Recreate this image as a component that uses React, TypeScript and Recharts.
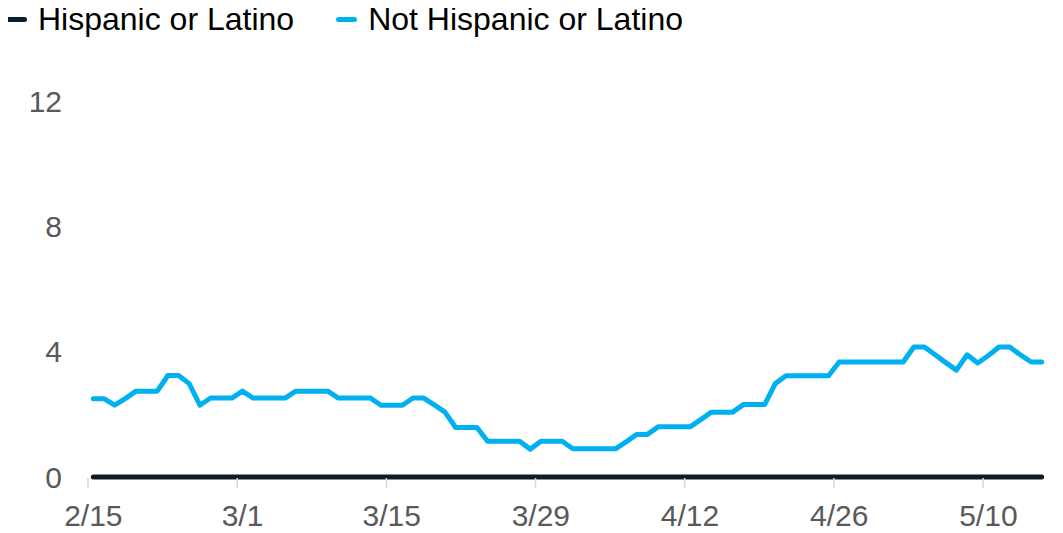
import React from "react";
import { LineChart, Line, XAxis, YAxis, Legend } from "recharts";

// daily labels, 2/15 through 5/15 (2021)
const START = new Date(2021, 1, 15);
const DATES = Array.from({ length: 90 }, (_, i) => {
  const d = new Date(START.getFullYear(), START.getMonth(), START.getDate() + i);
  return `${d.getMonth() + 1}/${d.getDate()}`;
});

const HISPANIC = new Array(90).fill(0);

const NOT_HISPANIC = [
  2.5, 2.5, 2.29, 2.5, 2.74, 2.74, 2.74, 3.24, 3.24, 2.98,
  2.29, 2.52, 2.52, 2.52, 2.74, 2.52, 2.52, 2.52, 2.52, 2.74,
  2.74, 2.74, 2.74, 2.52, 2.52, 2.52, 2.52, 2.29, 2.29, 2.29,
  2.52, 2.52, 2.3, 2.07, 1.58, 1.58, 1.58, 1.14, 1.14, 1.14,
  1.14, 0.89, 1.14, 1.14, 1.14, 0.9, 0.9, 0.9, 0.9, 0.9,
  1.12, 1.36, 1.36, 1.6, 1.6, 1.6, 1.6, 1.83, 2.07, 2.07,
  2.07, 2.31, 2.31, 2.31, 2.98, 3.23, 3.23, 3.23, 3.23, 3.23,
  3.67, 3.67, 3.67, 3.67, 3.67, 3.67, 3.67, 4.15, 4.15, 3.9,
  3.65, 3.41, 3.9, 3.64, 3.88, 4.15, 4.15, 3.9, 3.67, 3.67,
];

const Y_TICKS = [0, 4, 8, 12];

const SERIES = [
  { key: "hispanic", name: "Hispanic or Latino", color: "#0b1c2b" },
  { key: "notHispanic", name: "Not Hispanic or Latino", color: "#00b0f0" },
];

const data = DATES.map((date, i) => ({
  date,
  hispanic: HISPANIC[i],
  notHispanic: NOT_HISPANIC[i],
}));

const FONT = "'Liberation Sans', Arial, sans-serif";
const HALF_BAND = 958.5 / 90 / 2;
const LEGEND_H = 40;

function XTick(props: any) {
  const { x, y, payload } = props;
  return (
    <g>
      <line x1={x - HALF_BAND} x2={x - HALF_BAND} y1={y + 1} y2={y + 11} stroke="#d9d9d9" strokeWidth={1.5} />
      <text x={x} y={y + 49} textAnchor="middle" fill="#595959" fontSize={30} fontFamily={FONT}>
        {payload.value}
      </text>
    </g>
  );
}

function LegendContent() {
  return (
    <div style={{ display: "flex", alignItems: "center", height: LEGEND_H, fontFamily: FONT, fontSize: 32, color: "#000", whiteSpace: "nowrap" }}>
      {SERIES.map((s) => (
        <div key={s.key} style={{ display: "flex", alignItems: "center", marginRight: 42 }}>
          <span style={{ display: "inline-block", width: 21, height: 5, borderRadius: 3, background: s.color, marginRight: 11 }} />
          <span>{s.name}</span>
        </div>
      ))}
    </div>
  );
}

export default function App() {
  return (
    <LineChart width={1055} height={525} data={data} margin={{ top: 93 - LEGEND_H, right: 16, bottom: 5, left: 0 }}>
      <Legend content={LegendContent} verticalAlign="top" align="left" wrapperStyle={{ top: -9, left: -2, width: "auto" }} />
      <XAxis
        dataKey="date"
        interval={13}
        padding={{ left: HALF_BAND, right: HALF_BAND }}
        height={51}
        tickSize={0}
        tickMargin={0}
        tickLine={false}
        axisLine={false}
        tick={<XTick />}
      />
      <YAxis
        domain={[0, 12]}
        ticks={Y_TICKS}
        width={80}
        axisLine={false}
        tickLine={false}
        tickSize={0}
        tickMargin={26}
        tick={{ fill: "#595959", fontSize: 30, fontFamily: FONT }}
      />
      {SERIES.map((s) => (
        <Line
          key={s.key}
          dataKey={s.key}
          name={s.name}
          type="linear"
          stroke={s.color}
          strokeWidth={5}
          strokeLinecap="round"
          strokeLinejoin="round"
          dot={false}
          isAnimationActive={false}
        />
      ))}
    </LineChart>
  );
}
